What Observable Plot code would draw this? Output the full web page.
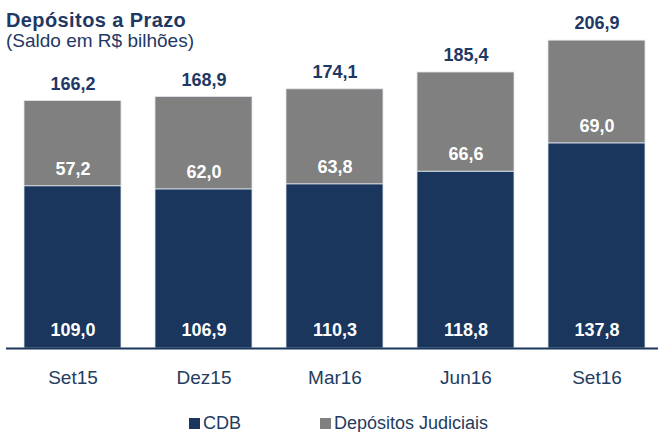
<!DOCTYPE html>
<html><head><meta charset="utf-8">
<script src="https://cdn.jsdelivr.net/npm/d3@7"></script>
<script src="https://cdn.jsdelivr.net/npm/@observablehq/plot@0.6"></script>
<style>
body{margin:0;background:#fff;font-family:"Liberation Sans",Arial,sans-serif;}
#wrap{position:relative;width:658px;height:432px;overflow:hidden;}
#title{position:absolute;left:6px;top:10px;color:#1f3864;font-weight:bold;font-size:20px;line-height:20px;letter-spacing:0.4px;white-space:nowrap;}
#sub{position:absolute;left:6px;top:31px;color:#1f3864;font-size:19px;line-height:19px;white-space:nowrap;}
#legend{position:absolute;top:413px;left:0;width:658px;height:20px;font-size:18px;color:#243c5e;}
.li{position:absolute;top:0;display:flex;align-items:center;line-height:20px;white-space:nowrap;}
.sw{width:11px;height:11px;margin-right:3px;display:inline-block;}
</style></head>
<body><div id="wrap">
<div id="chart"></div>
<div id="title">Depósitos a Prazo</div>
<div id="sub">(Saldo em R$ bilhões)</div>
<div id="legend"></div>
</div>
<script>
const categories = ["Set15","Dez15","Mar16","Jun16","Set16"];
const cdb = [109.0,106.9,110.3,118.8,137.8];
const judiciais = [57.2,62.0,63.8,66.6,69.0];
const totals = [166.2,168.9,174.1,185.4,206.9];
const seriesNames = ["CDB","Depósitos Judiciais"];
const colors = ["#1a365d","#808080"];

const fmt = v => v.toFixed(1).replace(".", ",");
const rows = [];
categories.forEach((c,i)=>{
  rows.push({cat:c, serie:seriesNames[0], y1:0, y2:cdb[i], v:cdb[i]});
  rows.push({cat:c, serie:seriesNames[1], y1:cdb[i], y2:cdb[i]+judiciais[i], v:judiciais[i]});
});
const tot = categories.map((c,i)=>({cat:c, v:totals[i], y:cdb[i]+judiciais[i]}));

const chart = Plot.plot({
  width:658, height:432,
  marginTop:40, marginBottom:84, marginLeft:6, marginRight:0,
  style:{fontFamily:"Liberation Sans, Arial, sans-serif", background:"#fff"},
  x:{domain:categories, range:[6.6,663.6], paddingInner:0.258, paddingOuter:0.129, label:null},
  y:{domain:[0,206.9], range:[348,40], axis:null},
  color:{domain:seriesNames, range:colors},
  marks:[
    Plot.rectY(rows,{x:"cat", y1:"y1", y2:"y2", fill:"serie", stroke:"#dfe5ee", strokeWidth:0.8}),
    Plot.ruleY([0],{stroke:"#1a365d", strokeWidth:1.8}),
    Plot.axisX({tickSize:0, tickPadding:22, fontSize:19, color:"#243c5e", label:null}),
    Plot.text(rows.filter(d=>d.serie===seriesNames[0]),{x:"cat", y:"y1", dy:-18, text:d=>fmt(d.v), fill:"#fff", fontWeight:"bold", fontSize:18}),
    Plot.text(rows.filter(d=>d.serie===seriesNames[1]),{x:"cat", y:"y1", dy:-17, text:d=>fmt(d.v), fill:"#fff", fontWeight:"bold", fontSize:18}),
    Plot.text(tot,{x:"cat", y:"y", dy:-17, text:d=>fmt(d.v), fill:"#1f3864", fontWeight:"bold", fontSize:18})
  ]
});
document.getElementById("chart").appendChild(chart);

const lg = document.getElementById("legend");
const lefts = [189,320];
seriesNames.forEach((n,i)=>{
  const d = document.createElement("div");
  d.className="li"; d.style.left=lefts[i]+"px";
  d.innerHTML = `<span class="sw" style="background:${colors[i]}"></span><span>${n}</span>`;
  lg.appendChild(d);
});
</script>
</body></html>
